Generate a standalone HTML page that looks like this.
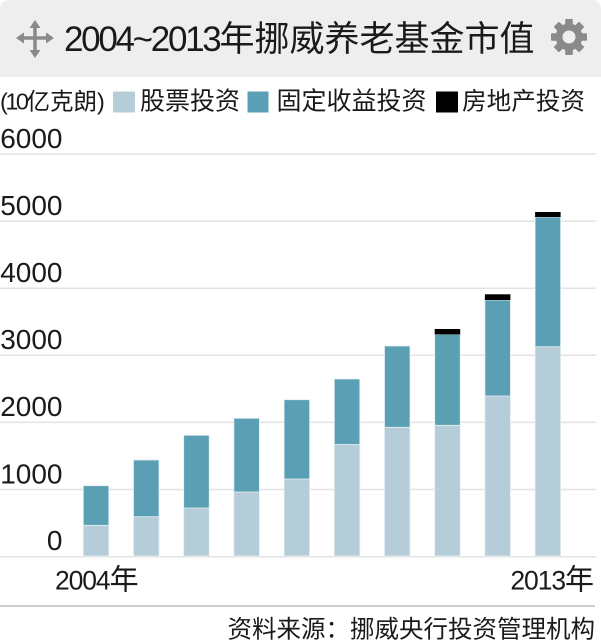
<!DOCTYPE html>
<html><head><meta charset="utf-8"><style>
html,body{margin:0;padding:0;background:#fff;}
svg{display:block;}
text{font-family:"Liberation Sans","Noto Sans CJK SC",sans-serif;fill:#1a1a1a;}
</style></head><body>
<svg width="601" height="643" viewBox="0 0 601 643" xmlns="http://www.w3.org/2000/svg">
<!-- header -->
<path d="M0,10 Q0,0 10,0 L591,0 Q601,0 601,10 L601,77 L0,77 Z" fill="#eeeeee"/>
<!-- move icon -->
<g fill="#8a8a8a" stroke="#8a8a8a">
<line x1="21" y1="38" x2="49" y2="38" stroke-width="3.5"/>
<line x1="35" y1="25" x2="35" y2="52" stroke-width="3.5"/>
<polygon points="16,38 24,32.5 24,43.5" stroke="none"/>
<polygon points="54,38 46,32.5 46,43.5" stroke="none"/>
<polygon points="35,20 29.5,28 40.5,28" stroke="none"/>
<polygon points="35,58 29.5,50 40.5,50" stroke="none"/>
</g>
<!-- gear -->
<g transform="translate(569,37)" fill="#8a8a8a">
<circle r="13.5"/>
<rect x="-3.8" y="-18" width="7.6" height="36" rx="1"/>
<rect x="-3.8" y="-18" width="7.6" height="36" rx="1" transform="rotate(45)"/>
<rect x="-3.8" y="-18" width="7.6" height="36" rx="1" transform="rotate(90)"/>
<rect x="-3.8" y="-18" width="7.6" height="36" rx="1" transform="rotate(135)"/>
<circle r="6.5" fill="#eeeeee"/>
</g>
<!-- title -->
<text x="64" y="51" font-size="35"><tspan letter-spacing="-2.3">2004~2013</tspan><tspan>年挪威养老基金市值</tspan></text>
<!-- legend -->
<text x="0" y="109.5" font-size="23.5"><tspan letter-spacing="-2.5">(10</tspan><tspan>亿克朗</tspan><tspan letter-spacing="-2.5">)</tspan></text>
<rect x="113" y="91.5" width="22" height="21" fill="#b5cdd8"/>
<text x="140" y="109.5" font-size="25">股票投资</text>
<rect x="247.5" y="91.5" width="21" height="21" fill="#5a9fb4"/>
<text x="276.5" y="109.5" font-size="25">固定收益投资</text>
<rect x="436" y="91.5" width="22" height="21" fill="#000"/>
<text x="462" y="109.5" font-size="24.6">房地产投资</text>
<!-- gridlines -->
<g stroke="#e3e3e3" stroke-width="1.5">
<line x1="0" y1="154" x2="596" y2="154"/>
<line x1="0" y1="221.1" x2="596" y2="221.1"/>
<line x1="0" y1="288.2" x2="596" y2="288.2"/>
<line x1="0" y1="355.3" x2="596" y2="355.3"/>
<line x1="0" y1="422.4" x2="596" y2="422.4"/>
<line x1="0" y1="489.5" x2="596" y2="489.5"/>
<line x1="0" y1="556.7" x2="596" y2="556.7"/>
</g>
<!-- y labels -->
<g font-size="28" text-anchor="end">
<text x="62.5" y="148">6000</text>
<text x="62.5" y="215">5000</text>
<text x="62.5" y="282">4000</text>
<text x="62.5" y="349">3000</text>
<text x="62.5" y="416">2000</text>
<text x="62.5" y="483.5">1000</text>
<text x="62.5" y="550">0</text>
</g>
<!-- bars -->
<g stroke="#e4eef2" stroke-width="0.8">
<rect x="83.3" y="525.3" width="25.5" height="30.7" fill="#b5cdd8"/>
<rect x="83.3" y="485.7" width="25.5" height="39.6" fill="#5a9fb4"/>

<rect x="133.5" y="516.7" width="25.5" height="39.3" fill="#b5cdd8"/>
<rect x="133.5" y="460" width="25.5" height="56.7" fill="#5a9fb4"/>

<rect x="183.7" y="508" width="25.5" height="48" fill="#b5cdd8"/>
<rect x="183.7" y="435.3" width="25.5" height="72.7" fill="#5a9fb4"/>

<rect x="233.9" y="492" width="25.5" height="64" fill="#b5cdd8"/>
<rect x="233.9" y="418.3" width="25.5" height="73.7" fill="#5a9fb4"/>

<rect x="284.1" y="479" width="25.5" height="77" fill="#b5cdd8"/>
<rect x="284.1" y="399.7" width="25.5" height="79.3" fill="#5a9fb4"/>

<rect x="334.3" y="444.5" width="25.5" height="111.5" fill="#b5cdd8"/>
<rect x="334.3" y="379" width="25.5" height="65.5" fill="#5a9fb4"/>

<rect x="384.5" y="427.3" width="25.5" height="128.7" fill="#b5cdd8"/>
<rect x="384.5" y="346" width="25.5" height="81.3" fill="#5a9fb4"/>

<rect x="434.7" y="425.3" width="25.5" height="130.7" fill="#b5cdd8"/>
<rect x="434.7" y="334.5" width="25.5" height="90.8" fill="#5a9fb4"/>
<rect x="434.7" y="329" width="25.5" height="5.5" fill="#000" stroke="none"/>

<rect x="484.9" y="396" width="25.5" height="160" fill="#b5cdd8"/>
<rect x="484.9" y="300" width="25.5" height="96" fill="#5a9fb4"/>
<rect x="484.9" y="294.3" width="25.5" height="5.7" fill="#000" stroke="none"/>

<rect x="535.1" y="346.7" width="25.5" height="209.3" fill="#b5cdd8"/>
<rect x="535.1" y="217" width="25.5" height="129.7" fill="#5a9fb4"/>
<rect x="535.1" y="212" width="25.5" height="5" fill="#000" stroke="none"/>
</g>
<!-- x labels -->
<text x="55" y="589.5"><tspan font-size="26.5" letter-spacing="-1.1">2004</tspan><tspan font-size="29">年</tspan></text>
<text x="594" y="589.5" text-anchor="end"><tspan font-size="26.5" letter-spacing="-1.1">2013</tspan><tspan font-size="29">年</tspan></text>
<!-- footer -->
<line x1="0" y1="606" x2="595" y2="606" stroke="#b0b0b0" stroke-width="1.3"/>
<text x="595" y="637.5" font-size="24.5" text-anchor="end">资料来源：挪威央行投资管理机构</text>
</svg>
</body></html>
